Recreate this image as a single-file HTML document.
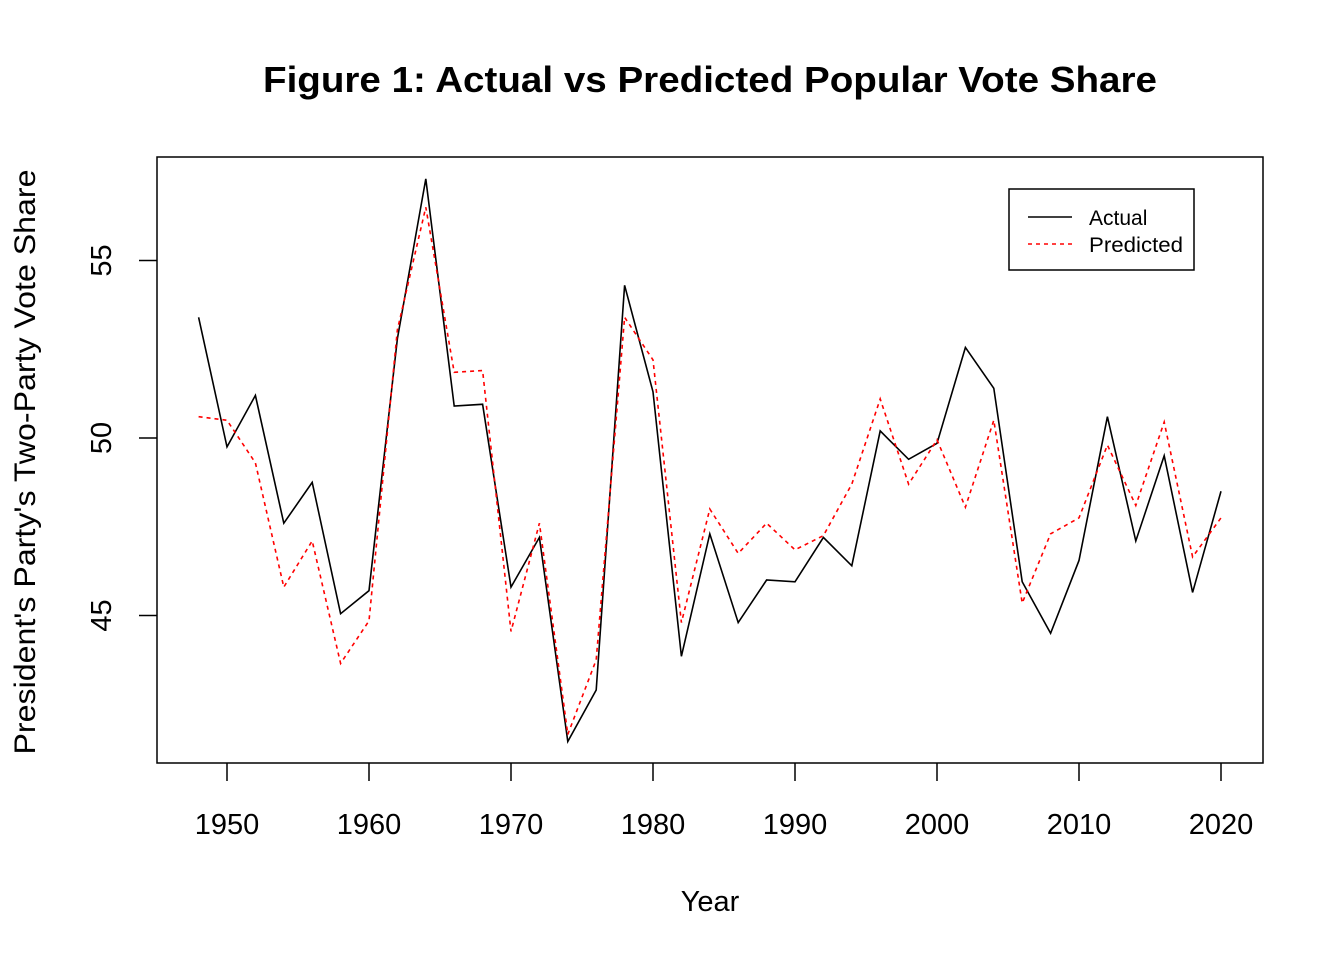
<!DOCTYPE html>
<html><head><meta charset="utf-8">
<style>
body{margin:0;background:#fff;}
svg{display:block;font-family:"Liberation Sans",Arial,sans-serif;}
</style></head>
<body>
<svg id="chart" width="1344" height="960" viewBox="0 0 1344 960">
<text x="710" y="92" text-anchor="middle" font-size="36" font-weight="bold" textLength="894" lengthAdjust="spacingAndGlyphs">Figure 1: Actual vs Predicted Popular Vote Share</text>
<rect x="157" y="157" width="1106" height="606" fill="none" stroke="#000" stroke-width="1.5"/>
<text x="710" y="911" text-anchor="middle" font-size="29">Year</text>
<text transform="translate(35,462) rotate(-90)" text-anchor="middle" font-size="30" textLength="585" lengthAdjust="spacingAndGlyphs">President's Party's Two-Party Vote Share</text>
<g id="axes"></g>
<g id="series"></g>
<g>
<rect x="1009" y="189" width="185" height="81" fill="#fff" stroke="#000" stroke-width="1.5"/>
<line x1="1028" y1="217" x2="1072" y2="217" stroke="#000" stroke-width="1.5"/>
<text x="1089" y="225" font-size="21">Actual</text>
<line x1="1028" y1="244" x2="1072" y2="244" stroke="#f00" stroke-width="1.5" stroke-dasharray="4,4"/>
<text x="1089" y="252" font-size="21" textLength="94" lengthAdjust="spacingAndGlyphs">Predicted</text>
</g>
</svg>
<script>
const years = [1948,1950,1952,1954,1956,1958,1960,1962,1964,1966,1968,1970,1972,1974,1976,1978,1980,1982,1984,1986,1988,1990,1992,1994,1996,1998,2000,2002,2004,2006,2008,2010,2012,2014,2016,2018,2020];
const actual = [53.4,49.75,51.2,47.6,48.75,45.05,45.7,52.8,57.3,50.9,50.95,45.8,47.2,41.45,42.9,54.3,51.3,43.85,47.3,44.8,46.0,45.95,47.2,46.4,50.2,49.4,49.85,52.55,51.4,45.95,44.5,46.55,50.6,47.1,49.5,45.65,48.5];
const predicted = [50.6,50.5,49.3,45.8,47.1,43.65,44.85,53.05,56.5,51.85,51.9,44.55,47.6,41.65,43.75,53.4,52.2,44.8,48.0,46.75,47.6,46.85,47.25,48.7,51.1,48.7,49.95,48.05,50.5,45.35,47.3,47.75,49.8,48.1,50.45,46.65,47.75];
const xTicks = [1950,1960,1970,1980,1990,2000,2010,2020];
const yTicks = [45,50,55];

const NS="http://www.w3.org/2000/svg";
function xs(v){return 227 + (v-1950)*(994/70);}
function ys(v){return 438 - (v-50)*35.5;}
function mk(tag,attrs,parent){const e=document.createElementNS(NS,tag);for(const k in attrs)e.setAttribute(k,attrs[k]);parent.appendChild(e);return e;}
const axes=document.getElementById('axes');
xTicks.forEach(t=>{
  const l=mk('line',{x1:xs(t),x2:xs(t),y1:763,y2:781,stroke:'#000','stroke-width':1.5},axes);
  
  
  const tx=mk('text',{x:xs(t),y:834,'text-anchor':'middle','font-size':29},axes);
  tx.textContent=t;
  
  
});
yTicks.forEach(t=>{
  const l=mk('line',{x1:139,x2:157,y1:ys(t),y2:ys(t),stroke:'#000','stroke-width':1.5},axes);
  
  
  const tx=mk('text',{transform:`translate(111,${ys(t)}) rotate(-90)`,'text-anchor':'middle','font-size':29},axes);
  tx.textContent=t;
  
  
});
const series=document.getElementById('series');
const pa=mk('polyline',{points:years.map((y,i)=>xs(y)+','+ys(actual[i])).join(' '),fill:'none',stroke:'#000','stroke-width':1.6},series);


const pp=mk('polyline',{points:years.map((y,i)=>xs(y)+','+ys(predicted[i])).join(' '),fill:'none',stroke:'#f00','stroke-width':1.6,'stroke-dasharray':'4,4'},series);


</script>
</body></html>
